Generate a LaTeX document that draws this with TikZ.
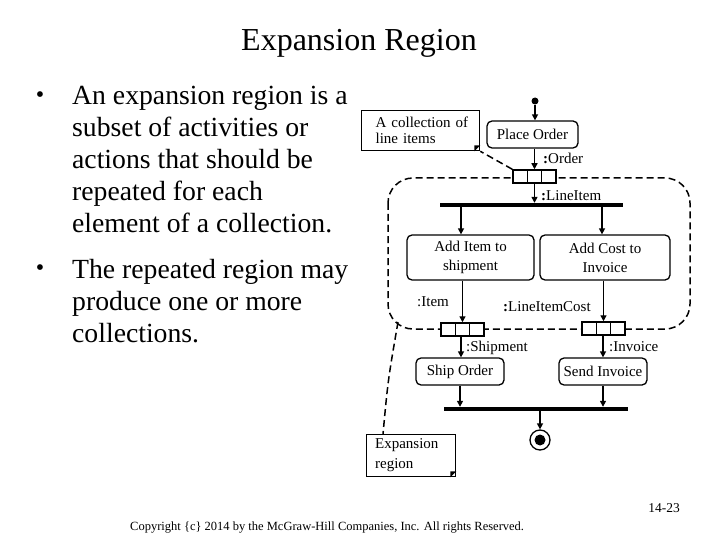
\documentclass[tikz,border=0pt]{standalone}
\usepackage{fontspec}
\setmainfont{Liberation Serif}
\usetikzlibrary{arrows.meta}
\begin{document}
\begin{tikzpicture}[x=1pt,y=-1pt,
  dtext/.style={font=\fontsize{15}{17}\selectfont, inner sep=0},
  action/.style={draw, line width=1.3pt, rounded corners=5pt, align=center, inner sep=0,
     font=\fontsize{15}{19}\selectfont},
  pinbox/.style={draw, line width=1.5pt, fill=white, minimum width=43pt, minimum height=13pt, inner sep=0},
  bar/.style={fill=black, inner sep=0, minimum height=4pt},
  arr/.style={line width=1.4pt, -{Triangle[width=6pt,length=6pt]}},
  notebox/.style={draw, line width=1.3pt, align=left, inner sep=0},
  dline/.style={line width=1.5pt, dash pattern=on 7pt off 4pt},
  btext/.style={font=\fontsize{27.7}{32}\selectfont, anchor=base west, inner sep=0}
]
\useasboundingbox (0,0) rectangle (720,540);

% title and bullets
\node[font=\fontsize{32}{36}\selectfont, anchor=base, inner sep=0] (title) at (359,51) {Expansion Region};
\node[btext] (l1) at (72,105) {An expansion region is a};
\node[btext] (l2) at (72,137) {subset of activities or};
\node[btext] (l3) at (72,169) {actions that should be};
\node[btext] (l4) at (72,201) {repeated for each};
\node[btext] (l5) at (72,233) {element of a collection.};
\node[btext] (l6) at (72,278) {The repeated region may};
\node[btext] (l7) at (72,310) {produce one or more};
\node[btext] (l8) at (72,342) {collections.};
\node[font=\fontsize{24}{32}\selectfont, inner sep=0] (d1) at (40,97) {•};
\node[font=\fontsize{24}{32}\selectfont, inner sep=0] (d2) at (40,270) {•};

% expansion region
\draw[dline, rounded corners=25pt] (388,178) rectangle (690,329);

% initial node
\node[circle, fill=black, minimum size=7pt, inner sep=0] (init) at (535,101) {};

% actions
\node[action, minimum width=91pt, minimum height=27pt] (place) at (532.5,134.5) {Place Order};
\node[action, minimum width=127pt, minimum height=45pt] (additem) at (470.5,257.5) {Add Item to\\shipment};
\node[action, minimum width=130pt, minimum height=45pt] (addcost) at (605,257.5) {Add Cost to\\Invoice};
\node[action, minimum width=88pt, minimum height=27pt] (ship) at (460,371.5) {Ship Order};
\node[action, minimum width=88pt, minimum height=27pt] (send) at (603,371.5) {Send Invoice};

% pins
\node[pinbox] (pinT) at (534.5,176.5) {};
\node[pinbox] (pinL) at (462.5,329.5) {};
\node[pinbox] (pinR) at (603.5,328.5) {};
\foreach \p in {pinT,pinL,pinR}{
  \draw[line width=1.5pt] ([xshift=-7.2pt]\p.north) -- ([xshift=-7.2pt]\p.south);
  \draw[line width=1.5pt] ([xshift=7.2pt]\p.north) -- ([xshift=7.2pt]\p.south);
}

% bars
\node[bar, minimum width=183pt] (fork) at (531.5,205) {};
\node[bar, minimum width=184pt] (join) at (536,409) {};

% final node
\node[circle, draw, line width=1.3pt, minimum size=20pt, inner sep=0] (final) at (540,440) {};
\node[circle, fill=black, minimum size=11pt, inner sep=0] (finalin) at (540,440) {};

% notes
\node[notebox, font=\fontsize{15}{16}\selectfont, anchor=north west, minimum width=118pt, minimum height=40pt, text width=112pt] (note1) at (361,110)
  {\hspace*{11pt}A collection of\\\hspace*{11pt}line items};
\fill ([xshift=-6pt]note1.south east) -- ([yshift=6pt]note1.south east) -- ([xshift=-6pt,yshift=6pt]note1.south east) -- cycle;
\node[notebox, font=\fontsize{15}{20}\selectfont, anchor=north west, minimum width=89pt, minimum height=42pt, text width=84pt] (note2) at (366,434)
  {\hspace*{6pt}Expansion\\\hspace*{6pt}region};
\fill ([xshift=-6pt]note2.south east) -- ([yshift=6pt]note2.south east) -- ([xshift=-6pt,yshift=6pt]note2.south east) -- cycle;

% connectors
\draw[arr] (init) -- (place.north -| init);
\draw[arr] (place.south -| pinT) -- (pinT.north);
\draw[arr] (pinT.south) -- (fork.north -| pinT);
\draw[arr] (fork.south -| 461,0) -- (additem.north -| 461,0);
\draw[arr] (fork.south -| 602,0) -- (addcost.north -| 602,0);
\draw[arr] (additem.south -| pinL) -- (pinL.north);
\draw[arr] (addcost.south -| pinR) -- (pinR.north);
\draw[arr] (pinL.south -| 461,0) -- (ship.north -| 461,0);
\draw[arr] (pinR.south -| 603,0) -- (send.north -| 603,0);
\draw[arr] (ship.south -| 460,0) -- (join.north -| 460,0);
\draw[arr] (send.south -| 603,0) -- (join.north -| 603,0);
\draw[arr] (join.south -| final) -- (final.north);

\coordinate (regpt) at (398,322);
\draw[dline] (pinT.north west) -- (note1.south east);
\draw[dline] (regpt) .. controls (388,380) .. ([xshift=17pt]note2.north west);

% labels
\node[dtext, anchor=west] (lOrder) at (543,158) {\textbf{:}Order};
\node[dtext, anchor=west] (lLine) at (541,196) {\textbf{:}LineItem};
\node[dtext, anchor=west] (lItem) at (417,302) {:Item};
\node[dtext, anchor=west] (lCost) at (503,307) {\textbf{:}LineItemCost};
\node[dtext, anchor=west] (lShip) at (466,348) {:Shipment};
\node[dtext, anchor=west] (lInv) at (609,347) {:Invoice};

% footer
\node[font=\fontsize{13.5}{15}\selectfont] (pg) at (664,508) {14-23};
\node[font=\fontsize{12.5}{14}\selectfont, anchor=west, inner sep=0] (copy) at (130,528)
  {Copyright \{c\} 2014 by the McGraw-Hill Companies, Inc. All rights Reserved.};
\end{tikzpicture}
\end{document}
